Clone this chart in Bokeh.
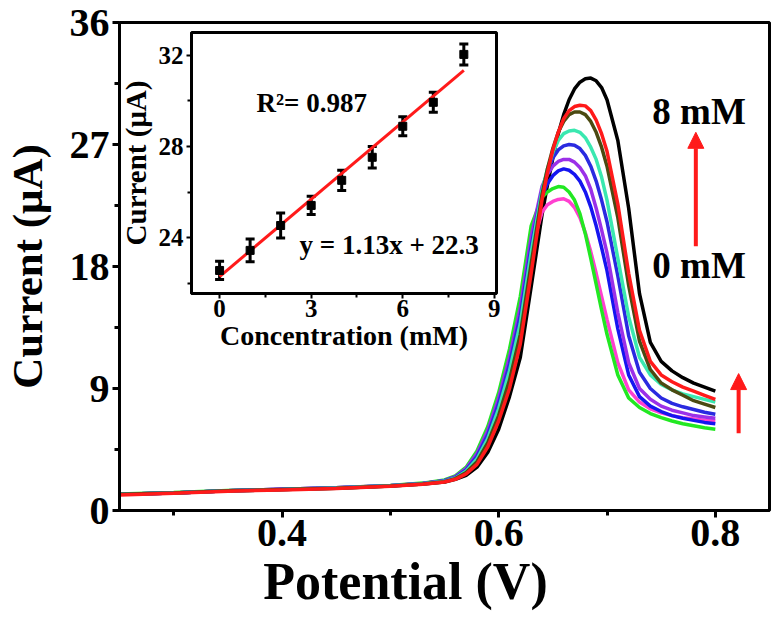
from bokeh.plotting import figure
from bokeh.models import (Range1d, FixedTicker, Arrow, NormalHead, Label, Whisker,
                          ColumnDataSource, TeeHead)
from bokeh.embed import file_html
from bokeh.resources import INLINE

# ---------------- data ----------------
potential = [0.25, 0.30, 0.35, 0.40, 0.45, 0.50, 0.53,
             0.55, 0.56, 0.57, 0.58, 0.59, 0.60, 0.61, 0.62, 0.63, 0.64,
             0.645, 0.65, 0.655, 0.66, 0.665, 0.67, 0.675, 0.68, 0.685, 0.69, 0.695,
             0.70, 0.71, 0.72, 0.73, 0.74, 0.75, 0.76, 0.77, 0.78, 0.79, 0.80]

i_0mM = [1.20, 1.30, 1.45, 1.56, 1.67, 1.84, 2.00,
         2.22, 2.50, 3.10, 4.20, 5.90, 8.30, 11.2, 14.9, 19.2, 22.0,
         22.55, 22.8, 22.95, 23.0, 22.8, 22.35, 21.6, 20.5, 19.1, 17.5, 15.8,
         14.1, 10.9, 8.9, 8.0, 7.5, 7.2, 7.0, 6.85, 6.75, 6.65, 6.6]
i_1mM = [1.22, 1.32, 1.47, 1.57, 1.68, 1.85, 2.02,
         2.25, 2.55, 3.20, 4.40, 6.20, 8.70, 11.9, 15.8, 21.0, 23.1,
         23.5, 23.75, 23.9, 23.85, 23.5, 22.9, 21.9, 20.4, 18.6, 16.7, 14.8,
         13.0, 10.0, 8.3, 7.6, 7.15, 6.85, 6.6, 6.4, 6.25, 6.1, 6.0]
i_2mM = [1.20, 1.30, 1.45, 1.56, 1.67, 1.83, 2.00,
         2.20, 2.48, 3.05, 4.10, 5.80, 8.10, 11.1, 14.7, 19.6, 23.2,
         24.1, 24.7, 25.05, 25.2, 25.1, 24.8, 24.3, 23.5, 22.4, 21.0, 19.4,
         17.7, 13.4, 10.0, 8.4, 7.7, 7.3, 7.0, 6.8, 6.65, 6.5, 6.4]
i_3mM = [1.20, 1.30, 1.45, 1.56, 1.67, 1.83, 2.00,
         2.20, 2.50, 3.10, 4.20, 5.90, 8.30, 11.3, 15.0, 20.2, 23.9,
         24.8, 25.4, 25.75, 25.9, 25.9, 25.7, 25.3, 24.7, 23.7, 22.3, 20.7,
         19.0, 14.6, 10.9, 9.0, 8.2, 7.7, 7.4, 7.2, 7.0, 6.9, 6.8]
i_4mM = [1.20, 1.30, 1.45, 1.55, 1.66, 1.82, 1.98,
         2.18, 2.45, 3.00, 4.00, 5.60, 7.90, 10.8, 14.4, 19.5, 23.6,
         25.0, 26.0, 26.6, 26.9, 27.0, 26.95, 26.7, 26.2, 25.4, 24.3, 22.9,
         21.3, 17.3, 12.9, 10.2, 9.0, 8.3, 7.9, 7.65, 7.45, 7.25, 7.1]
i_5mM = [1.20, 1.30, 1.45, 1.55, 1.66, 1.82, 1.97,
         2.15, 2.40, 2.90, 3.80, 5.30, 7.50, 10.3, 13.8, 19.0, 23.6,
         25.2, 26.4, 27.3, 27.8, 28.0, 28.05, 27.9, 27.5, 26.8, 25.9, 24.6,
         22.9, 18.6, 14.3, 11.3, 10.0, 9.3, 8.9, 8.6, 8.4, 8.2, 8.0]
i_6mM = [1.20, 1.30, 1.45, 1.55, 1.65, 1.80, 1.95,
         2.12, 2.35, 2.80, 3.60, 5.00, 7.00, 9.60, 13.0, 18.2, 23.3,
         25.2, 26.7, 27.9, 28.7, 29.2, 29.4, 29.4, 29.2, 28.7, 27.9, 26.8,
         25.4, 21.6, 16.6, 12.5, 10.4, 9.4, 8.9, 8.5, 8.1, 7.85, 7.6]
i_7mM = [1.15, 1.28, 1.42, 1.52, 1.62, 1.78, 1.93,
         2.10, 2.30, 2.70, 3.40, 4.70, 6.60, 9.00, 12.3, 17.5, 22.9,
         24.9, 26.6, 27.9, 28.9, 29.5, 29.8, 29.9, 29.85, 29.5, 28.8, 27.8,
         26.5, 22.6, 17.5, 13.3, 11.0, 10.0, 9.5, 9.1, 8.8, 8.5, 8.2]
i_8mM = [1.20, 1.30, 1.45, 1.55, 1.65, 1.80, 1.95,
         2.10, 2.30, 2.60, 3.20, 4.30, 6.00, 8.40, 11.3, 16.5, 21.8,
         24.0, 26.0, 27.8, 29.2, 30.3, 31.1, 31.6, 31.85, 31.9, 31.7, 31.2,
         30.3, 27.3, 22.3, 16.0, 12.4, 11.0, 10.3, 9.8, 9.4, 9.1, 8.8]

curve_colors = ["#ff40d0", "#22e822", "#1515f0", "#9b30e8", "#2a2ae0",
                "#3ae8b0", "#4b4a12", "#ff1a1a", "#000000"]
curves = [i_0mM, i_1mM, i_2mM, i_3mM, i_4mM, i_5mM, i_6mM, i_7mM, i_8mM]
draw_order = [8, 0, 1, 2, 3, 4, 5, 6, 7]

x_ticks = [0.4, 0.6, 0.8]
x_minor = [0.3, 0.5, 0.7]
y_ticks = [0, 9, 18, 27, 36]
y_minor = [4.5, 13.5, 22.5, 31.5]

# inset data
conc = [0, 1, 2, 3, 4, 5, 6, 7, 8]
inset_current = [22.57, 23.45, 24.54, 25.42, 26.52, 27.53, 28.89, 29.94, 32.04]
inset_err = [0.40, 0.50, 0.55, 0.40, 0.44, 0.47, 0.42, 0.44, 0.46]
fit_slope = 1.13
fit_intercept = 22.3
inset_x_ticks = [0, 3, 6, 9]
inset_x_minor = [1.5, 4.5, 7.5]
inset_y_ticks = [24, 28, 32]
inset_y_minor = [22, 26, 30]

FONT = "Liberation Serif"
NBSP = "\u00a0"

# ---------------- main figure ----------------
W, H = 774, 624
p = figure(width=W, height=H, x_range=Range1d(0.25, 0.85), y_range=Range1d(0, 36),
           output_backend="svg", toolbar_location=None,
           min_border_left=116, min_border_right=5, min_border_top=22, min_border_bottom=114)
p.xgrid.visible = False
p.ygrid.visible = False
p.outline_line_color = "black"
p.outline_line_width = 3
p.outline_line_alpha = 1.0

p.xaxis.ticker = FixedTicker(ticks=x_ticks, minor_ticks=x_minor)
p.yaxis.ticker = FixedTicker(ticks=y_ticks, minor_ticks=y_minor)
p.xaxis.axis_label = "Potential (V)" + NBSP * 6
p.yaxis.axis_label = "Current (\u03bcA)"
for ax in (p.xaxis[0], p.yaxis[0]):
    ax.axis_line_width = 3
    ax.major_tick_line_width = 3
    ax.minor_tick_line_width = 3
    ax.major_tick_out = 7
    ax.major_tick_in = 0
    ax.minor_tick_out = 5
    ax.minor_tick_in = 0
    ax.major_label_text_font = FONT
    ax.major_label_text_font_style = "bold"
    ax.major_label_text_font_size = "40px"
    ax.major_label_text_color = "black"
    ax.axis_label_text_font = FONT
    ax.axis_label_text_font_style = "bold"
    ax.axis_label_text_color = "black"
p.xaxis.axis_label_text_font_size = "52px"
p.yaxis.axis_label_text_font_size = "43px"
p.xaxis.major_label_standoff = 2
p.yaxis.major_label_standoff = 3
p.xaxis.axis_label_standoff = 4
p.yaxis.axis_label_standoff = 16

for k in draw_order:
    p.line(potential, curves[k], line_color=curve_colors[k], line_width=3.5)

head1 = NormalHead(size=16, fill_color="#ff1a1a", line_color="#ff1a1a")
p.add_layout(Arrow(end=head1, x_start=0.782, y_start=19.5, x_end=0.782, y_end=27.9,
                   line_color="#ff1a1a", line_width=4))
head2 = NormalHead(size=16, fill_color="#ff1a1a", line_color="#ff1a1a")
p.add_layout(Arrow(end=head2, x_start=0.8215, y_start=5.7, x_end=0.8215, y_end=10.1,
                   line_color="#ff1a1a", line_width=4))
for txt, ty in (("8 mM", 29.4), ("0 mM", 18.1)):
    p.add_layout(Label(x=0.785, y=ty, text=txt, text_align="center", text_baseline="middle",
                       text_font=FONT, text_font_style="bold", text_font_size="37px",
                       text_color="black"))

# ---------------- inset figure (separate root, overlaid) ----------------
ins = figure(frame_width=305, frame_height=261,
             x_range=Range1d(-0.92, 9.07), y_range=Range1d(21.56, 33.0),
             output_backend="svg", toolbar_location=None,
             min_border_left=71, min_border_right=5, min_border_top=10, min_border_bottom=20)
ins.background_fill_alpha = 0
ins.border_fill_alpha = 0
ins.xgrid.visible = False
ins.ygrid.visible = False
ins.outline_line_color = "black"
ins.outline_line_width = 3
ins.outline_line_alpha = 1.0
ins.xaxis.ticker = FixedTicker(ticks=inset_x_ticks, minor_ticks=inset_x_minor)
ins.yaxis.ticker = FixedTicker(ticks=inset_y_ticks, minor_ticks=inset_y_minor)
ins.xaxis.axis_label = "Concentration (mM)"
ins.yaxis.axis_label = "Current (\u03bcA)"
for ax in (ins.xaxis[0], ins.yaxis[0]):
    ax.axis_line_width = 3
    ax.major_tick_line_width = 2
    ax.minor_tick_line_width = 2
    ax.major_tick_out = 5
    ax.major_tick_in = 0
    ax.minor_tick_out = 4
    ax.minor_tick_in = 0
    ax.major_label_text_font = FONT
    ax.major_label_text_font_style = "bold"
    ax.major_label_text_font_size = "25px"
    ax.major_label_text_color = "black"
    ax.axis_label_text_font = FONT
    ax.axis_label_text_font_style = "bold"
    ax.axis_label_text_color = "black"
ins.xaxis.axis_label_text_font_size = "28px"
ins.yaxis.axis_label_text_font_size = "29px"
ins.xaxis.major_label_standoff = 1
ins.yaxis.major_label_standoff = 3
ins.xaxis.axis_label_standoff = 0
ins.yaxis.axis_label_standoff = 4

fit_x = [conc[0], conc[-1]]
fit_y = [fit_slope * v + fit_intercept for v in fit_x]
ins.line(fit_x, fit_y, line_color="#ff1a1a", line_width=3)

src = ColumnDataSource(data=dict(
    x=conc, y=inset_current,
    upper=[c + e for c, e in zip(inset_current, inset_err)],
    lower=[c - e for c, e in zip(inset_current, inset_err)]))
ins.add_layout(Whisker(source=src, base="x", upper="upper", lower="lower", dimension="height",
                       line_color="black", line_width=3,
                       upper_head=TeeHead(size=9, line_color="black", line_width=3),
                       lower_head=TeeHead(size=9, line_color="black", line_width=3)))
ins.scatter("x", "y", source=src, marker="square", size=8, color="black")

ins.add_layout(Label(x=1.21, y=29.89, text="R\u00b2= 0.987", text_align="left",
                     text_baseline="middle", text_font=FONT, text_font_style="bold",
                     text_font_size="27px", text_color="black"))
ins.add_layout(Label(x=2.62, y=23.67, text="y = 1.13x + 22.3", text_align="left",
                     text_baseline="middle", text_font=FONT, text_font_style="bold",
                     text_font_size="27px", text_color="black"))

ins.margin = (22 - H, 0, 0, 116)

open("out.html", "w").write(file_html([p, ins], INLINE))
